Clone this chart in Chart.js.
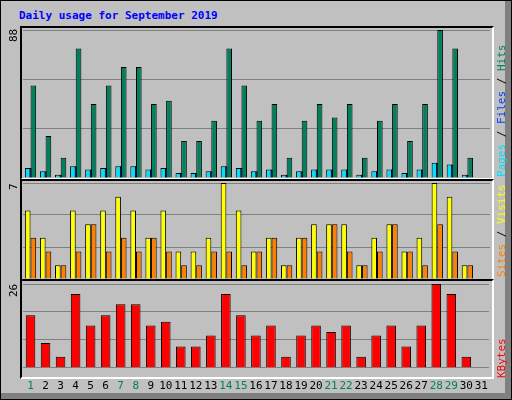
<!DOCTYPE html>
<html>
<head>
<meta charset="utf-8">
<script src="https://cdn.jsdelivr.net/npm/chart.js@4"></script>
<style>
  body { margin: 0; background: #fff; }
  #wrap { position: relative; width: 510px; height: 398px; background: #c0c0c0; border: 1px solid #000; overflow: hidden; }
  #wrap canvas { position: absolute; }
  .frame { position: absolute; border: 2px solid #000; border-right-color: #fff; border-bottom-color: #fff; box-sizing: border-box; pointer-events: none; }
  .title { position: absolute; left: 18px; top: 8px; font: bold 11px 'DejaVu Sans Mono', monospace; color: #0000ff; }
  .vlab { position: absolute; font: 11px 'DejaVu Sans Mono', monospace; transform: rotate(-90deg); transform-origin: left top; white-space: nowrap; }
  .shade-r { position: absolute; right: 0; top: 0; width: 6px; height: 100%; background: #808080; }
  .shade-b { position: absolute; left: 0; bottom: 0; width: 100%; height: 6px; background: #808080; }
</style>
</head>
<body>
<div id="wrap">
  <div class="shade-r"></div><div class="shade-b"></div>
  <div class="title">Daily usage for September 2019</div>
  <canvas id="hitsChart" width="471" height="151" style="left:20px;top:26px"></canvas>
  <canvas id="visitsChart" width="471" height="99" style="left:20px;top:179px"></canvas>
  <canvas id="kbytesChart" width="471" height="116" style="left:20px;top:280px"></canvas>
  <div class="frame" style="left:19px;top:25px;width:474px;height:154px"></div>
  <div class="frame" style="left:19px;top:178px;width:474px;height:102px"></div>
  <div class="frame" style="left:19px;top:278px;width:474px;height:100px"></div>
  <div class="vlab" style="left:6px;top:41px">88</div>
  <div class="vlab" style="left:6px;top:189px">7</div>
  <div class="vlab" style="left:6px;top:296px">26</div>
  <div class="vlab" style="left:494px;top:176px"><span style="color:#00e0ff">Pages</span> / <span style="color:#0040ff">Files</span> / <span style="color:#00805c">Hits</span></div>
  <div class="vlab" style="left:494px;top:276px"><span style="color:#ff8000">Sites</span> / <span style="color:#ffff00">Visits</span></div>
  <div class="vlab" style="left:494px;top:377px"><span style="color:#ff0000">KBytes</span></div>
</div>
<script>
// Дни месяца и значения
const days = ['1','2','3','4','5','6','7','8','9','10','11','12','13','14','15','16','17','18','19','20','21','22','23','24','25','26','27','28','29','30','31'];
const weekendDays = ['1','7','8','14','15','21','22','28','29'];
const hitsData = [55,25,12,77,44,55,66,66,44,46,22,22,34,77,55,34,44,12,34,44,36,44,12,34,44,22,44,88,77,12,0];
const filesData = [6,4,2,7,5,6,7,7,5,6,3,3,4,7,6,4,5,2,4,5,5,5,2,4,5,3,5,9,8,2,0];
const pagesData = [6,4,2,7,5,6,7,7,5,6,3,3,4,7,6,4,5,2,4,5,5,5,2,4,5,3,5,9,8,2,0];
const visitsData = [5,3,1,5,4,5,6,5,3,5,2,2,3,7,5,2,3,1,3,4,4,4,1,3,4,2,3,7,6,1,0];
const sitesData = [3,2,1,2,4,2,3,2,3,2,1,1,2,2,1,2,3,1,3,2,4,2,1,2,4,2,1,4,2,1,0];
const kbytesData = [16.3,7.7,3.4,22.9,13.1,16.3,19.7,19.7,13.1,14.3,6.6,6.6,10,22.9,16.3,10,13.1,3.4,10,13.1,11.1,13.1,3.4,10,13.1,6.6,13.1,26,22.9,3.4,0];
const maxHits = 88, maxVisits = 7, maxKbytes = 26;

function yScale(max) {
    return {
        min: 0, max: max,
        ticks: { display: false, stepSize: max / 3 },
        grid: { color: '#808080', lineWidth: 1, drawTicks: false },
        border: { display: false }
    };
}
function xScale(show) {
    return {
        display: show,
        grid: { display: false },
        border: { display: false },
        ticks: {
            font: { family: "'DejaVu Sans Mono', monospace", size: 11 },
            color: (c) => weekendDays.includes(days[c.index]) ? '#00805c' : '#000000',
            maxRotation: 0, autoSkip: false, padding: 4
        }
    };
}
function bar(data, color, extra) {
    return Object.assign({ data: data, backgroundColor: color, borderColor: '#000', borderWidth: 1, barPercentage: 1, categoryPercentage: 0.75 }, extra || {});
}
const common = {
    responsive: false, animation: false,
    plugins: { legend: { display: false }, tooltip: { enabled: false } },
    layout: { padding: { top: 3, left: 2, right: 2 } }
};

new Chart(document.getElementById('hitsChart'), {
    type: 'bar',
    data: { labels: days, datasets: [
        bar(pagesData, '#0040ff', { grouped: false, barPercentage: 0.2, order: 0 }),
        bar(hitsData, '#00805c', { order: 2 }),
        bar(filesData, '#00e0ff', { order: 1 })
    ] },
    options: Object.assign({}, common, { scales: { x: xScale(false), y: yScale(maxHits) } })
});

new Chart(document.getElementById('visitsChart'), {
    type: 'bar',
    data: { labels: days, datasets: [
        bar(visitsData, '#ffff00'),
        bar(sitesData, '#ff8000')
    ] },
    options: Object.assign({}, common, { scales: { x: xScale(false), y: yScale(maxVisits) } })
});

new Chart(document.getElementById('kbytesChart'), {
    type: 'bar',
    data: { labels: days, datasets: [ bar(kbytesData, '#ff0000', { barPercentage: 0.85 }) ] },
    options: Object.assign({}, common, { scales: { x: xScale(true), y: yScale(maxKbytes) } })
});
</script>
</body>
</html>
